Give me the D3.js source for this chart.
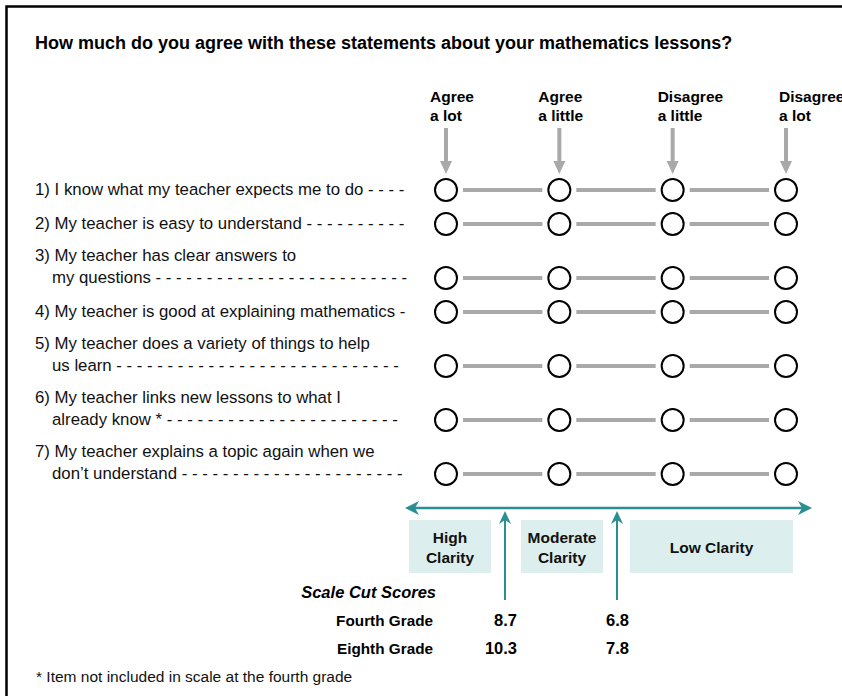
<!DOCTYPE html>
<html>
<head>
<meta charset="utf-8">
<script src="https://cdn.jsdelivr.net/npm/d3@7"></script>
<style>
  body { margin: 0; background: #fff; }
  svg { display: block; font-family: "Liberation Sans", Arial, sans-serif; }
</style>
</head>
<body>
<svg id="chart"></svg>
<script>
// chart content
var title = "How much do you agree with these statements about your mathematics lessons?";
var responses = ["Agree|a lot", "Agree|a little", "Disagree|a little", "Disagree|a lot"];
var statements = [
    ["1) I know what my teacher expects me to do"],
    ["2) My teacher is easy to understand"],
    ["3) My teacher has clear answers to", "my questions"],
    ["4) My teacher is good at explaining mathematics"],
    ["5) My teacher does a variety of things to help", "us learn"],
    ["6) My teacher links new lessons to what I", "already know *"],
    ["7) My teacher explains a topic again when we", "don\u2019t understand"]
];
var clarityLevels = ["High|Clarity", "Moderate|Clarity", "Low Clarity"];
var gradeLabels = ["Fourth Grade", "Eighth Grade"];
var highCut = ["8.7", "10.3"];
var moderateCut = ["6.8", "7.8"];
var footnote = "* Item not included in scale at the fourth grade";

var svgWidth = 842,
    svgHeight = 696;
var grey = "#a9a9a9",
    teal = "#2a8f93",
    boxFill = "#dceeee";
// header labels sit a little left of their column
var headOffset = [-16, -21, -15, -7];

var svg = d3.select("#chart")
    .attr("width", svgWidth)
    .attr("height", svgHeight);

// frame (top + left only)
svg.append("path")
    .attr("d", "M6.5," + svgHeight + "V6.5H" + svgWidth)
    .attr("fill", "none")
    .attr("stroke", "#000")
    .attr("stroke-width", 2.5);

svg.append("text")
    .attr("x", 35)
    .attr("y", 49)
    .attr("font-size", "18px")
    .attr("font-weight", "bold")
    .text(title);

var x = d3.scalePoint()
    .domain(responses)
    .range([446, 786]);

// row positions: two-line statements need more room
var gaps = statements.map((s, i) => i === 0 ? 0 : (s.length > 1 ? 54 : 34));
var offsets = Array.from(d3.cumsum(gaps));
var y = d3.scaleOrdinal()
    .domain(d3.range(statements.length))
    .range(offsets.map(o => 190 + o));

// column headers + grey arrows
var head = svg.append("g").selectAll("g")
    .data(responses)
    .join("g");

head.append("text")
    .attr("x", (d, i) => x(d) + headOffset[i])
    .attr("y", 102)
    .attr("font-size", "15.5px")
    .attr("font-weight", "bold")
    .selectAll("tspan")
    .data(d => d.split("|"))
    .join("tspan")
    .attr("x", function () { return this.parentNode.getAttribute("x"); })
    .attr("dy", (d, i) => i === 0 ? 0 : 19)
    .text(d => d);

head.append("line")
    .attr("x1", d => x(d))
    .attr("x2", d => x(d))
    .attr("y1", 128)
    .attr("y2", 163)
    .attr("stroke", grey)
    .attr("stroke-width", 4);

head.append("path")
    .attr("d", d => "M" + (x(d) - 6) + ",161L" + (x(d) + 6) + ",161L" + x(d) + ",174Z")
    .attr("fill", grey);

// statements with dash leaders
var dashEnd = 406;
var rows = svg.append("g").selectAll("g")
    .data(statements)
    .join("g");

rows.each(function (lines, i) {
    var g = d3.select(this);
    var last = y(i) + 5;
    lines.forEach((line, j) => {
        var tx = j === 0 ? 35 : 52;
        var t = g.append("text")
            .attr("x", tx)
            .attr("y", last - (lines.length - 1 - j) * 22)
            .attr("font-size", "16.8px")
            .attr("fill", "#111")
            .text(line);
        if (j === lines.length - 1) {
            var s = line + " ";
            t.text(s + "-");
            while (t.node().getComputedTextLength() + tx < dashEnd - 9) {
                s += "- ";
                t.text(s + "-");
            }
        }
    });

    // connecting bars
    g.selectAll("line")
        .data(responses.slice(1))
        .join("line")
        .attr("x1", (d, k) => x(responses[k]) + 17)
        .attr("x2", d => x(d) - 17)
        .attr("y1", y(i))
        .attr("y2", y(i))
        .attr("stroke", grey)
        .attr("stroke-width", 4);

    g.selectAll("circle")
        .data(responses)
        .join("circle")
        .attr("cx", d => x(d))
        .attr("cy", y(i))
        .attr("r", 11)
        .attr("fill", "#fff")
        .attr("stroke", "#000")
        .attr("stroke-width", 2);
});

// clarity scale arrow
var axisY = 508;
svg.append("line")
    .attr("x1", 408).attr("x2", 809)
    .attr("y1", axisY).attr("y2", axisY)
    .attr("stroke", teal).attr("stroke-width", 2.5);
svg.append("path")
    .attr("d", "M405," + axisY + "l14,-7l-4,7l4,7Z")
    .attr("fill", teal);
svg.append("path")
    .attr("d", "M812," + axisY + "l-14,-7l4,7l-4,7Z")
    .attr("fill", teal);

var boxes = [[409, 491], [521, 603], [630, 793]];
var boxG = svg.append("g").selectAll("g")
    .data(clarityLevels)
    .join("g");

boxG.append("rect")
    .attr("x", (d, i) => boxes[i][0])
    .attr("width", (d, i) => boxes[i][1] - boxes[i][0])
    .attr("y", 520)
    .attr("height", 53)
    .attr("fill", boxFill);

boxG.append("text")
    .attr("text-anchor", "middle")
    .attr("font-size", "15.5px")
    .attr("font-weight", "bold")
    .attr("fill", "#111")
    .attr("y", d => d.includes("|") ? 543 : 553)
    .selectAll("tspan")
    .data((d, i) => d.split("|").map(t => ({ t: t, cx: (boxes[i][0] + boxes[i][1]) / 2 })))
    .join("tspan")
    .attr("x", d => d.cx)
    .attr("dy", (d, i) => i === 0 ? 0 : 20)
    .text(d => d.t);

// cut arrows
var cutX = [505, 617];
cutX.forEach(cx => {
    svg.append("line")
        .attr("x1", cx).attr("x2", cx)
        .attr("y1", 520).attr("y2", 600)
        .attr("stroke", teal).attr("stroke-width", 2);
    svg.append("path")
        .attr("d", "M" + cx + ",511l-6,13l6,-4l6,4Z")
        .attr("fill", teal);
});

// cut score table
svg.append("text")
    .attr("x", 436).attr("y", 598)
    .attr("text-anchor", "end")
    .attr("font-size", "16.5px")
    .attr("font-weight", "bold")
    .attr("font-style", "italic")
    .text("Scale Cut Scores");

var tableY = d3.scalePoint().domain(gradeLabels).range([626, 654]);

svg.append("g").selectAll("text")
    .data(gradeLabels)
    .join("text")
    .attr("x", 433)
    .attr("y", d => tableY(d))
    .attr("text-anchor", "end")
    .attr("font-size", "15.3px")
    .attr("font-weight", "bold")
    .text(d => d);

[highCut, moderateCut].forEach((vals, k) => {
    svg.append("g").selectAll("text")
        .data(vals)
        .join("text")
        .attr("x", cutX[k] + 12)
        .attr("y", (d, i) => tableY(gradeLabels[i]))
        .attr("text-anchor", "end")
        .attr("font-size", "16.5px")
        .attr("font-weight", "bold")
        .text(d => d);
});

svg.append("text")
    .attr("x", 36).attr("y", 682)
    .attr("font-size", "15.5px")
    .attr("fill", "#111")
    .text(footnote);
</script>
</body>
</html>
